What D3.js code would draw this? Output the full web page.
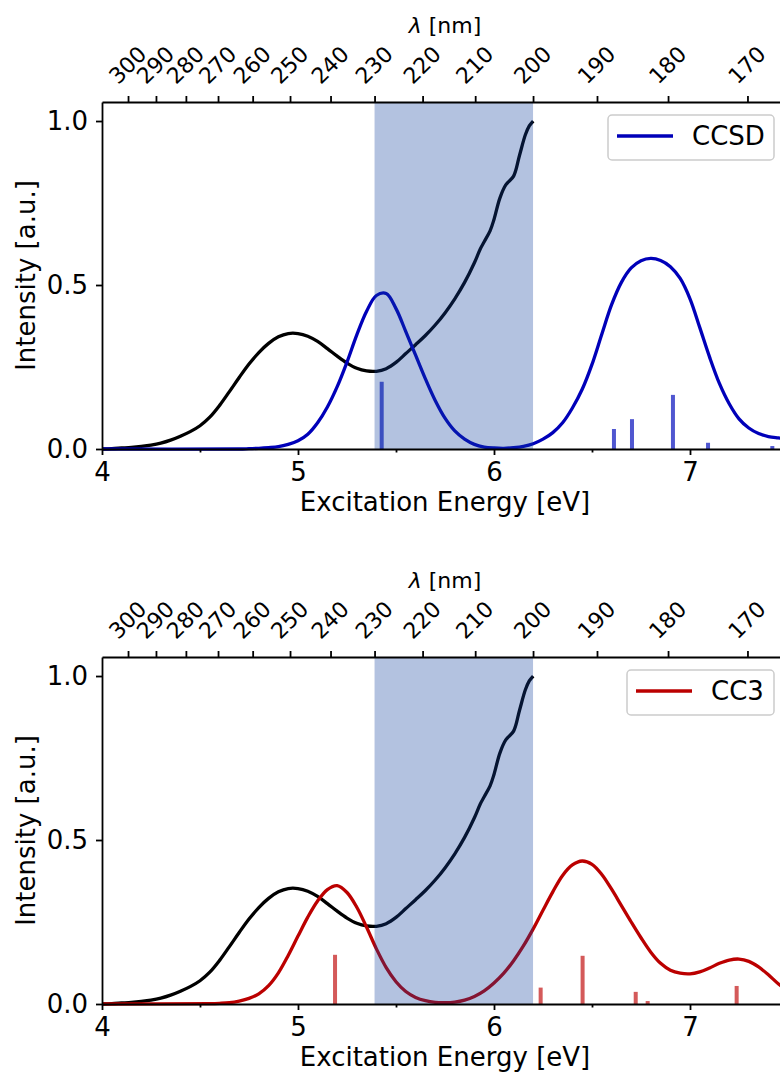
<!DOCTYPE html>
<html>
<head>
<meta charset="utf-8">
<script src="https://cdn.jsdelivr.net/npm/d3@7"></script>
<style>
body { margin: 0; background: #fff; }
svg text { font-family: "DejaVu Sans", sans-serif; fill: #000; }
</style>
</head>
<body>
<div id="chart"></div>
<script>
// experimental spectrum (same in both panels)
const expEnergy = [4.00, 4.05, 4.10, 4.15, 4.20, 4.25, 4.30, 4.35, 4.40, 4.45, 4.50, 4.55, 4.60, 4.65, 4.70, 4.75, 4.80, 4.85, 4.90, 4.95, 5.00, 5.05, 5.10, 5.15, 5.20, 5.25, 5.30, 5.35, 5.40, 5.45, 5.50, 5.55, 5.60, 5.65, 5.70, 5.75, 5.80, 5.85, 5.90, 5.93, 5.95, 5.98, 6.00, 6.03, 6.06, 6.10, 6.13, 6.16, 6.18, 6.20]
const expIntensity = [0.000, 0.001, 0.003, 0.005, 0.008, 0.012, 0.018, 0.027, 0.039, 0.053, 0.071, 0.097, 0.133, 0.175, 0.218, 0.259, 0.294, 0.322, 0.342, 0.352, 0.352, 0.344, 0.328, 0.306, 0.283, 0.262, 0.246, 0.238, 0.237, 0.245, 0.264, 0.291, 0.318, 0.346, 0.378, 0.415, 0.458, 0.508, 0.568, 0.610, 0.632, 0.665, 0.700, 0.765, 0.805, 0.832, 0.895, 0.958, 0.985, 1.000]

// CCSD broadened spectrum and sticks
const ccsdEnergy = [4.00, 4.70, 4.75, 4.80, 4.85, 4.90, 4.95, 5.00, 5.05, 5.10, 5.15, 5.20, 5.25, 5.30, 5.35, 5.40, 5.45, 5.50, 5.55, 5.60, 5.65, 5.70, 5.75, 5.80, 5.85, 5.90, 5.95, 6.00, 6.05, 6.10, 6.15, 6.20, 6.25, 6.30, 6.35, 6.40, 6.45, 6.50, 6.55, 6.60, 6.65, 6.70, 6.75, 6.80, 6.85, 6.90, 6.95, 7.00, 7.05, 7.10, 7.15, 7.20, 7.25, 7.30, 7.35, 7.40, 7.45, 7.50]
const ccsdIntensity = [0.000, 0.000, 0.001, 0.002, 0.004, 0.007, 0.014, 0.025, 0.045, 0.080, 0.128, 0.190, 0.265, 0.348, 0.420, 0.468, 0.474, 0.428, 0.358, 0.286, 0.214, 0.148, 0.094, 0.055, 0.030, 0.014, 0.006, 0.003, 0.002, 0.004, 0.008, 0.016, 0.030, 0.050, 0.080, 0.125, 0.182, 0.258, 0.350, 0.440, 0.508, 0.552, 0.574, 0.581, 0.575, 0.556, 0.520, 0.458, 0.370, 0.280, 0.200, 0.138, 0.092, 0.064, 0.047, 0.038, 0.034, 0.031]
const ccsdStickEnergy = [5.427, 6.612, 6.704, 6.913, 7.092, 7.42]
const ccsdStickIntensity = [0.205, 0.061, 0.091, 0.165, 0.019, 0.009]

// CC3 broadened spectrum and sticks
const cc3Energy = [4.00, 4.55, 4.60, 4.65, 4.70, 4.75, 4.80, 4.85, 4.90, 4.95, 5.00, 5.05, 5.10, 5.15, 5.20, 5.25, 5.30, 5.35, 5.40, 5.45, 5.50, 5.55, 5.60, 5.65, 5.70, 5.75, 5.80, 5.85, 5.90, 5.95, 6.00, 6.05, 6.10, 6.15, 6.20, 6.25, 6.30, 6.35, 6.40, 6.45, 6.50, 6.55, 6.60, 6.65, 6.70, 6.75, 6.80, 6.85, 6.90, 6.95, 7.00, 7.05, 7.10, 7.15, 7.20, 7.25, 7.30, 7.35, 7.40, 7.45, 7.50]
const cc3Intensity = [0.000, 0.001, 0.002, 0.004, 0.009, 0.017, 0.031, 0.056, 0.095, 0.148, 0.207, 0.265, 0.314, 0.349, 0.361, 0.340, 0.295, 0.234, 0.168, 0.111, 0.068, 0.038, 0.020, 0.010, 0.005, 0.004, 0.006, 0.012, 0.023, 0.040, 0.064, 0.094, 0.132, 0.177, 0.229, 0.286, 0.342, 0.392, 0.424, 0.436, 0.426, 0.395, 0.350, 0.300, 0.250, 0.202, 0.158, 0.124, 0.103, 0.094, 0.092, 0.098, 0.110, 0.124, 0.134, 0.137, 0.130, 0.113, 0.089, 0.062, 0.040]
const cc3StickEnergy = [5.189, 6.238, 6.452, 6.723, 6.784, 7.238]
const cc3StickIntensity = [0.150, 0.050, 0.147, 0.037, 0.009, 0.055]

// axes
const energyTicks = [4, 5, 6, 7]
const energyMinorTicks = [4.5, 5.5, 6.5, 7.5]
const intensityTicks = [0, 0.5, 1.0]
const nmTicks = [300, 290, 280, 270, 260, 250, 240, 230, 220, 210, 200, 190, 180, 170]
const shadeNm = [230, 200]

const hc = 1239.84
const toEV = nm => hc / nm

const left = 102, plotW = 686, plotH = 347
const font = "DejaVu Sans, sans-serif"

const svg = d3.select("#chart")
    .append("svg")
    .attr("width", 780)
    .attr("height", 1080)

const x = d3.scaleLinear()
    .domain([4, 7.5])
    .range([left, left + plotW])

function drawPanel(top, name, curveE, curveI, stickE, stickI, lineColor, stickColor) {
    const y = d3.scaleLinear()
        .domain([0, 1.058])
        .range([top + plotH, top])

    const g = svg.append("g")

    const line = d3.line()
        .x(d => x(d[0]))
        .y(d => y(d[1]))
        .curve(d3.curveCatmullRom.alpha(0.5))

    // sticks
    g.selectAll("rect.stick")
        .data(stickE.map((e, i) => [e, stickI[i]]))
        .join("rect")
        .attr("class", "stick")
        .attr("x", d => x(d[0]) - 2)
        .attr("width", 4)
        .attr("y", d => y(d[1]))
        .attr("height", d => y(0) - y(d[1]))
        .attr("fill", stickColor)

    // experiment
    g.append("path")
        .datum(expEnergy.map((e, i) => [e, expIntensity[i]]))
        .attr("d", line)
        .attr("fill", "none")
        .attr("stroke", "#000")
        .attr("stroke-width", 3.3)
        .attr("stroke-linejoin", "round")

    // theory
    g.append("path")
        .datum(curveE.map((e, i) => [e, curveI[i]]))
        .attr("d", line)
        .attr("fill", "none")
        .attr("stroke", lineColor)
        .attr("stroke-width", 3.3)
        .attr("stroke-linejoin", "round")

    // shaded window 230-200 nm, on top of the lines
    g.append("rect")
        .attr("x", x(toEV(shadeNm[0])))
        .attr("width", x(toEV(shadeNm[1])) - x(toEV(shadeNm[0])))
        .attr("y", top)
        .attr("height", plotH)
        .attr("fill", "rgb(16,63,158)")
        .attr("fill-opacity", 0.317)

    // bottom axis
    const xAxis = g.append("g")
        .attr("transform", `translate(0,${top + plotH})`)
        .call(d3.axisBottom(x).tickValues(energyTicks).tickSize(6).tickPadding(8).tickSizeOuter(0).tickFormat(d3.format("d")))
    xAxis.selectAll("text").attr("font-size", 26).attr("font-family", font)
    g.append("g")
        .attr("transform", `translate(0,${top + plotH})`)
        .call(d3.axisBottom(x).tickValues(energyMinorTicks).tickSize(3.5).tickSizeOuter(0).tickFormat(""))
        .select(".domain").remove()

    // left axis
    const yAxis = g.append("g")
        .attr("transform", `translate(${left},0)`)
        .call(d3.axisLeft(y).tickValues(intensityTicks).tickSize(6).tickPadding(8).tickSizeOuter(0).tickFormat(d3.format(".1f")))
    yAxis.selectAll("text").attr("font-size", 26).attr("font-family", font)

    // top axis in wavelength
    const topAxis = g.append("g")
        .attr("transform", `translate(0,${top})`)
        .call(d3.axisTop(x).tickValues(nmTicks.map(toEV)).tickSize(6).tickSizeOuter(0).tickFormat(d => Math.round(hc / d)))
    topAxis.selectAll("text")
        .attr("font-size", 22)
        .attr("font-family", font)
        .attr("x", 0)
        .attr("y", 0)
        .attr("dy", "0.35em")
        .attr("text-anchor", "middle")
        .attr("transform", "translate(-1,-37) rotate(-45)")

    g.selectAll(".domain, .tick line")
        .attr("stroke", "#000")
        .attr("stroke-width", 1.8)

    // labels
    g.append("text")
        .attr("x", left + plotW / 2)
        .attr("y", top + plotH + 62)
        .attr("text-anchor", "middle")
        .attr("font-size", 26)
        .text("Excitation Energy [eV]")

    g.append("text")
        .attr("transform", `translate(35,${top + plotH / 2}) rotate(-90)`)
        .attr("text-anchor", "middle")
        .attr("font-size", 26)
        .text("Intensity [a.u.]")

    const lam = g.append("text")
        .attr("x", left + plotW / 2)
        .attr("y", top - 69)
        .attr("text-anchor", "middle")
        .attr("font-size", 22)
    lam.append("tspan").attr("font-style", "italic").text("λ")
    lam.append("tspan").text(" [nm]")

    // legend
    const legW = name.length > 3 ? 166 : 147
    const lx = 774 - legW, ly = top + 13
    const legend = g.append("g")
    legend.append("rect")
        .attr("x", lx)
        .attr("y", ly)
        .attr("width", legW)
        .attr("height", 45)
        .attr("rx", 4)
        .attr("fill", "#fff")
        .attr("fill-opacity", 0.8)
        .attr("stroke", "#cccccc")
        .attr("stroke-width", 1.5)
    legend.append("line")
        .attr("x1", lx + 9)
        .attr("x2", lx + 65)
        .attr("y1", ly + 21)
        .attr("y2", ly + 21)
        .attr("stroke", lineColor)
        .attr("stroke-width", 3.3)
    legend.append("text")
        .attr("x", lx + 84)
        .attr("y", ly + 30)
        .attr("font-size", 26)
        .text(name)
}

drawPanel(102, "CCSD", ccsdEnergy, ccsdIntensity, ccsdStickEnergy, ccsdStickIntensity, "#0000b9", "#5057d0")
drawPanel(657, "CC3", cc3Energy, cc3Intensity, cc3StickEnergy, cc3StickIntensity, "#bb0000", "#d45a5a")
</script>
</body>
</html>
